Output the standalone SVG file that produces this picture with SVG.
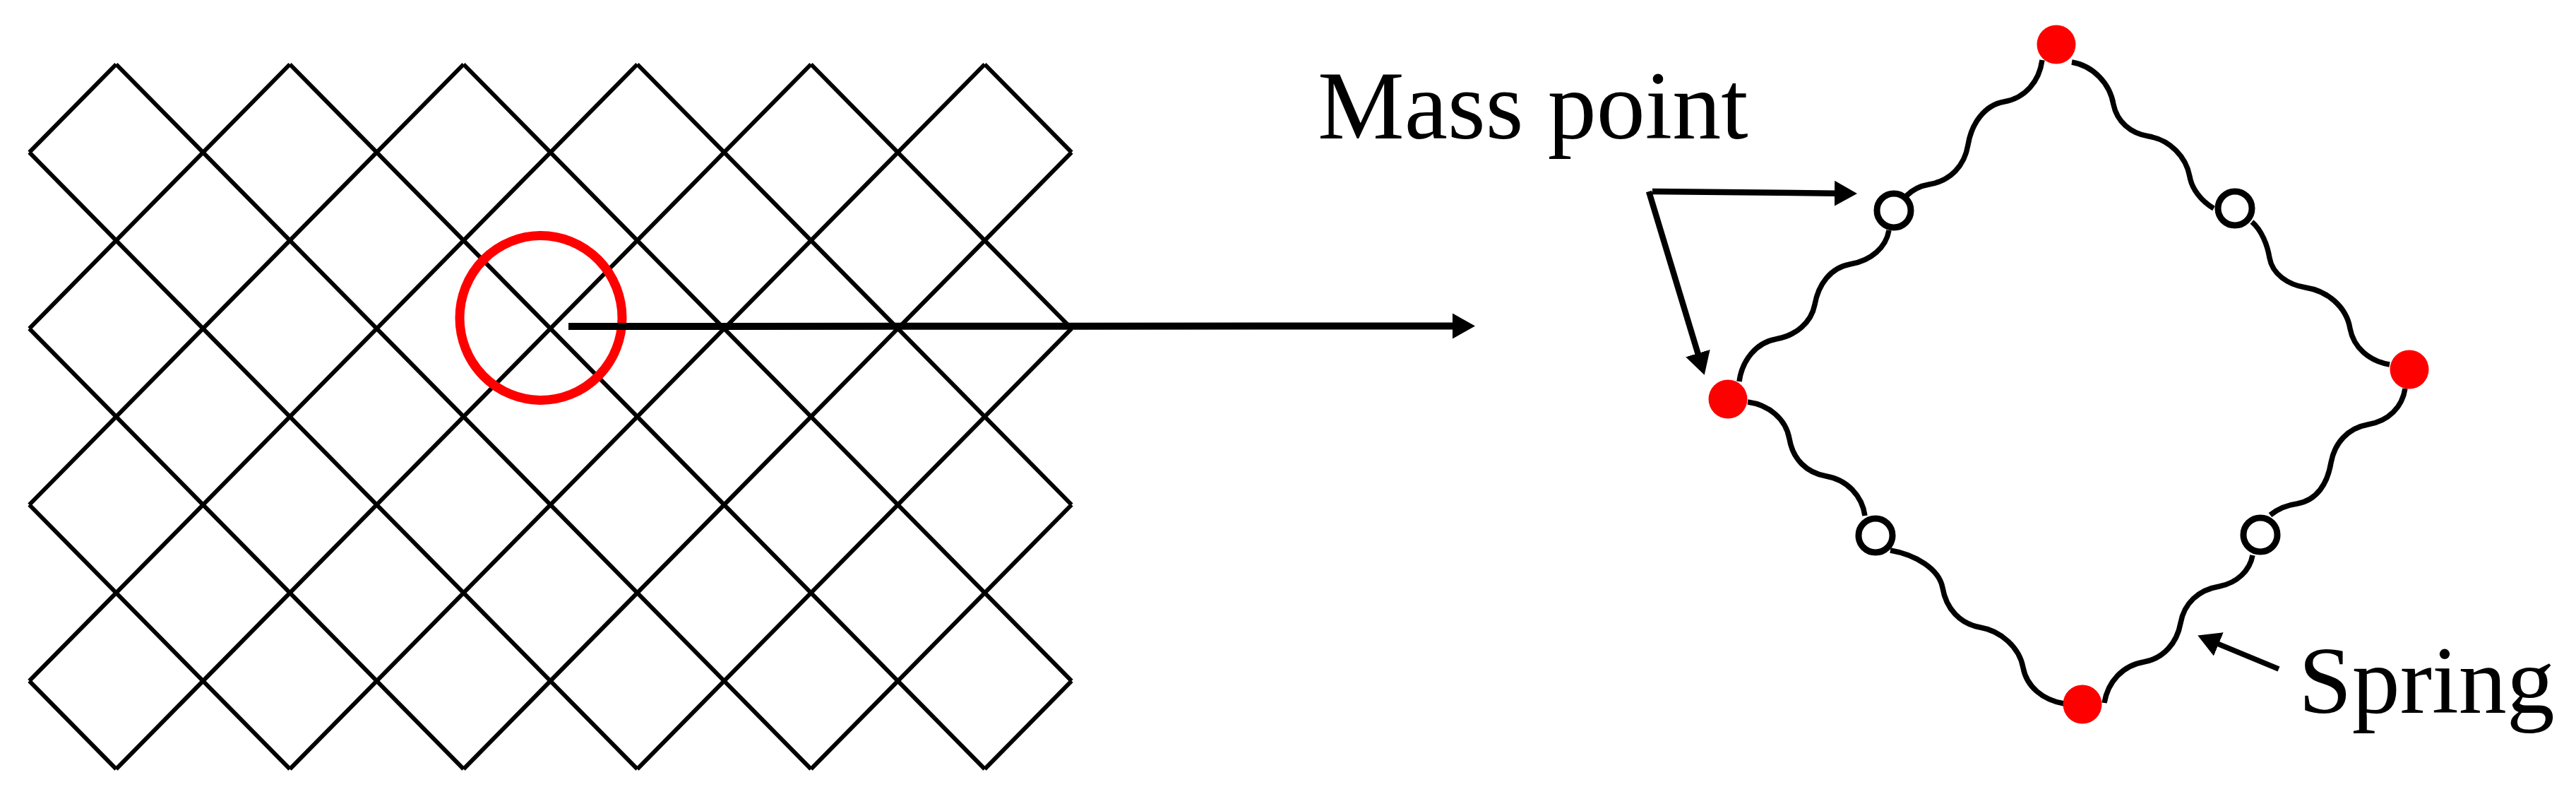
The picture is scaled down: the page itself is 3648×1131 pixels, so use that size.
<svg xmlns="http://www.w3.org/2000/svg" width="3648" height="1131" viewBox="0 0 3648 1131">
<style>
.grid{fill:none;stroke:#000;stroke-width:6}
.spring{fill:none;stroke:#000;stroke-width:7.5}
.arrow{fill:none;stroke:#000;stroke-width:8.5}
.head{fill:#000;stroke:none}
.mass{fill:#f00;stroke:none}
.free{fill:#fff;stroke:#000;stroke-width:9}
.label{font-family:"Liberation Serif","Times New Roman",serif;fill:#000}
</style>
<defs>
<marker id="arrowhead" markerUnits="userSpaceOnUse" markerWidth="36" markerHeight="38" refX="2" refY="19" orient="auto"><path class="head" d="M0 1L32 19L0 37Z"/></marker>
</defs>
<rect width="3648" height="1131" fill="#fff"/>
<g id="lattice">
<path class="grid" d="M164.5 91L1148.5 1088.6M410.5 91L1394.5 1088.6M656.5 91L1517.5 963.9M902.5 91L1517.5 714.5M1148.5 91L1517.5 465.1M1394.5 91L1517.5 215.7M41.5 215.7L902.5 1088.6M41.5 465.1L656.5 1088.6M41.5 714.5L410.5 1088.6M41.5 963.9L164.5 1088.6"/>
<path class="grid" d="M164.5 91L41.5 215.7M410.5 91L41.5 465.1M656.5 91L41.5 714.5M902.5 91L41.5 963.9M1148.5 91L164.5 1088.6M1394.5 91L410.5 1088.6M1517.5 215.7L656.5 1088.6M1517.5 465.1L902.5 1088.6M1517.5 714.5L1148.5 1088.6M1517.5 963.9L1394.5 1088.6"/>
</g>
<g id="selection-circle"><ellipse cx="766" cy="450" rx="115" ry="116.5" fill="none" stroke="#f00" stroke-width="13"/></g>
<g id="connectors">
<line class="arrow" style="stroke-width:10" x1="805" y1="462" x2="2059" y2="461.5" marker-end="url(#arrowhead)"/>
<line class="arrow" x1="2340" y1="271" x2="2600" y2="273.7" marker-end="url(#arrowhead)"/>
<line class="arrow" x1="2335" y1="271" x2="2405" y2="502" marker-end="url(#arrowhead)"/>
<line class="arrow" style="stroke-width:7.5" x1="3227" y1="947" x2="3140" y2="911" marker-end="url(#arrowhead)"/>
<path class="spring" d="M2934 88C2964 93 2988 118 2993 148C2998 172 3017 189 3043 193C3073 198 3096 222 3101 250C3104 268 3118 285 3135 295"/>
<path class="spring" d="M3189 314C3203 326 3211 347 3214 365C3218 388 3240 403 3265 407C3297 412 3323 435 3328 465C3333 492 3355 511 3384 516"/>
<path class="spring" d="M2892 85C2888 115 2868 139 2838 144C2810 149 2792 175 2787 205C2782 235 2762 256 2732 261C2720 263 2708 269 2700 277"/>
<path class="spring" d="M2675 326C2671 350 2650 369 2620 374C2592 379 2575 403 2570 431C2565 457 2543 475 2515 480C2487 485 2467 510 2463 540"/>
<path class="spring" d="M2475 569C2505 573 2529 593 2534 621C2539 650 2558 669 2586 674C2616 679 2637 702 2641 730"/>
<path class="spring" d="M2677 779C2712 785 2746 805 2751 832C2756 862 2776 883 2804 888C2834 893 2860 917 2865 945C2870 972 2893 991 2923 996"/>
<path class="spring" d="M3406 550C3402 576 3383 596 3353 601C3325 606 3306 627 3301 655C3296 685 3281 708 3253 713C3238 715 3225 721 3215 729"/>
<path class="spring" d="M3190 786C3186 808 3168 825 3143 830C3113 835 3093 854 3088 882C3083 910 3064 932 3036 937C3006 942 2985 965 2980 995"/>
</g>
<g id="mass-top"><circle class="mass" cx="2912" cy="63" r="27.5"/></g>
<g id="mass-right"><circle class="mass" cx="3412" cy="523" r="27.5"/></g>
<g id="mass-bottom"><circle class="mass" cx="2949" cy="997" r="27.5"/></g>
<g id="mass-left"><circle class="mass" cx="2447" cy="565" r="27.5"/></g>
<g id="point-upper-left"><circle class="free" cx="2682" cy="298" r="24"/></g>
<g id="point-upper-right"><circle class="free" cx="3165" cy="295" r="24"/></g>
<g id="point-lower-left"><circle class="free" cx="2656" cy="758" r="24"/></g>
<g id="point-lower-right"><circle class="free" cx="3201" cy="757" r="24"/></g>
<g id="label-mass-point"><text class="label" x="1866" y="196" font-size="138">Mass point</text></g>
<g id="label-spring"><text class="label" x="3255" y="1009" font-size="136">Spring</text></g>
</svg>
